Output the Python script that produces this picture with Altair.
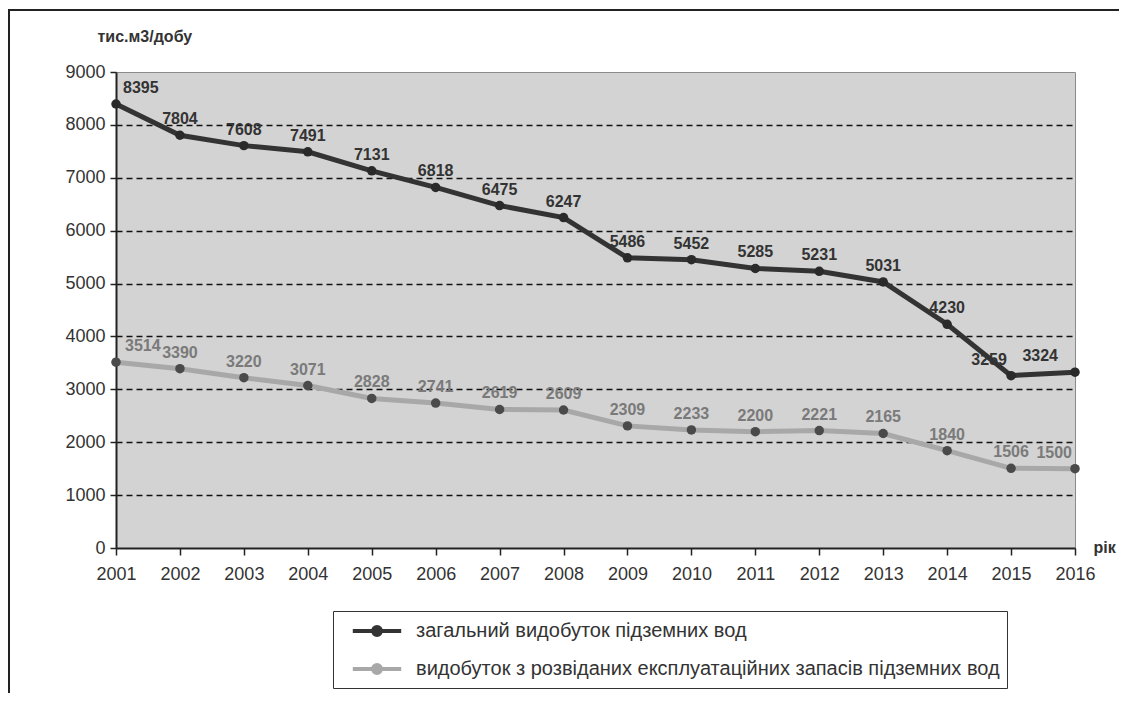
import altair as alt
import pandas as pd

years = list(range(2001, 2017))
total = [8395, 7804, 7608, 7491, 7131, 6818, 6475, 6247, 5486, 5452, 5285, 5231, 5031, 4230, 3259, 3324]
explored = [3514, 3390, 3220, 3071, 2828, 2741, 2619, 2609, 2309, 2233, 2200, 2221, 2165, 1840, 1506, 1500]
s1 = "загальний видобуток підземних вод"
s2 = "видобуток з розвіданих експлуатаційних запасів підземних вод"

df = pd.DataFrame({
    "year": years * 2,
    "value": total + explored,
    "series": [s1] * len(years) + [s2] * len(years),
})

W, H = 959, 476
PAD_L, PAD_T, PAD_R, PAD_B = 108, 64, 44, 145
FONT = "Liberation Sans"

legend_path = ("M-2.2,0L2.2,0"
               "M-0.36,0A0.36,0.36,0,1,1,0.36,0A0.36,0.36,0,1,1,-0.36,0Z")

color = alt.Color(
    "series:N",
    scale=alt.Scale(domain=[s1, s2], range=["#333333", "#a8a8a8"]),
    sort=[s1, s2],
    legend=alt.Legend(
        title=None, orient="none", legendX=217, legendY=539,
        symbolType=legend_path, symbolSize=484, symbolStrokeWidth=4,
        symbolFillColor="#333333", symbolOffset=24,
        labelFontSize=20, labelFont=FONT, labelColor="#333333", labelLimit=0,
        labelExpr="datum.label + '\u00a0\u00a0'",
        labelOffset=26, rowPadding=13, padding=7,
        strokeColor="#333333", fillColor="white",
    ),
)

x = alt.X("year:Q", scale=alt.Scale(domain=[2001, 2016], nice=False, zero=False),
          axis=alt.Axis(values=years, format="d", title="рік", grid=False, labelFlush=False,
                        titleAngle=0, titleX=W + 18, titleY=-1, titleAlign="left", titleBaseline="middle",
                        titleFont=FONT, titleFontSize=16, titleFontWeight="bold", titleColor="#333333",
                        labelFont=FONT, labelFontSize=18, labelColor="#333333", labelPadding=10,
                        domainColor="#222222", domainWidth=2, tickColor="#222222", tickSize=7, tickWidth=1.5))
y = alt.Y("value:Q", scale=alt.Scale(domain=[0, 9000], nice=False),
          axis=alt.Axis(values=list(range(0, 9001, 1000)), format="d", title="тис.м3/добу",
                        titleAngle=0, titleX=-19, titleY=-44, titleAlign="left", titleBaseline="top",
                        titleFont=FONT, titleFontSize=16, titleFontWeight="bold", titleColor="#333333",
                        labelFont=FONT, labelFontSize=18, labelColor="#333333", labelPadding=5,
                        domainColor="#222222", domainWidth=2, tickColor="#222222", tickSize=6, tickWidth=1.5,
                        gridColor=alt.condition("datum.value == 9000 || datum.value == 0",
                                                alt.value("transparent"), alt.value("#111111")),
                        gridDash=[6, 4], gridWidth=1.5))

base = alt.Chart(df)

lines = base.mark_line(strokeWidth=5).encode(x=x, y=y, color=color)
points = base.mark_point(filled=True, size=90, opacity=1, shape="circle").encode(
    x="year:Q", y="value:Q",
    fill=alt.Fill("series:N", scale=alt.Scale(domain=[s1, s2], range=["#2a2a2a", "#4a4a4a"]), legend=None),
)

enc = dict(x="year:Q", y="value:Q", text="value:Q")


def labels(series, col, groups):
    d = base.transform_filter(alt.datum.series == series)
    out = []
    for yrs, align, dx in groups:
        out.append(
            d.transform_filter(alt.FieldOneOfPredicate(field="year", oneOf=yrs))
            .mark_text(align=align, dx=dx, dy=-8, baseline="bottom", fontSize=16,
                       fontWeight="bold", font=FONT, color=col)
            .encode(**enc)
        )
    return out


mid1 = [yr for yr in years if yr not in (2001, 2015, 2016)]
mid2 = [yr for yr in years if yr not in (2001, 2016)]
lab1 = labels(s1, "#333333", [([2001], "left", 7), (mid1, "center", 0),
                              ([2015], "center", -22), ([2016], "right", -17)])
lab2 = labels(s2, "#7a7a7a", [([2001], "left", 9), (mid2, "center", 0), ([2016], "right", -3)])

frame_df = pd.DataFrame({"a": [0]})
frame_top = alt.Chart(frame_df).mark_rule(color="#222222", strokeWidth=2).encode(
    x=alt.value(-PAD_L), x2=alt.value(W + PAD_R), y=alt.value(-62))
frame_left = alt.Chart(frame_df).mark_rule(color="#222222", strokeWidth=2).encode(
    x=alt.value(-PAD_L + 1), y=alt.value(-62), y2=alt.value(H + PAD_B))

chart = alt.layer(
    lines, points, *lab1, *lab2, frame_top, frame_left,
).properties(
    width=W, height=H,
    autosize=alt.AutoSizeParams(type="none"),
    padding={"left": PAD_L, "top": PAD_T, "right": PAD_R, "bottom": PAD_B},
    background="white",
).configure_view(
    fill="#d3d3d3", stroke="#8a8a8a", strokeWidth=1,
)

chart.save("out.html", embed_options={"renderer": "svg", "actions": False})
